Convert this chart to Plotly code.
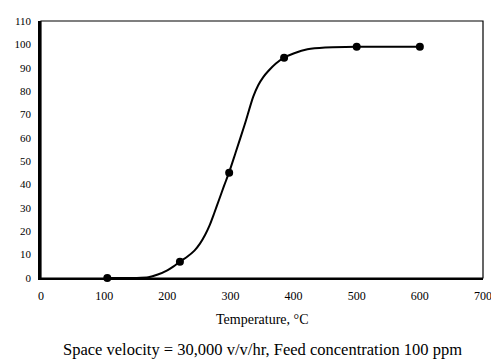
import plotly.graph_objects as go

# Measured data points
temp_pts = [105, 220, 298, 385, 500, 600]
conv_pts = [0, 7, 45, 94.3, 99, 99]

# Hand-traced smooth curve through the data
curve_x = [105, 150, 170, 185, 200, 210, 220, 232, 243, 252, 260, 267, 274, 282, 290,
           298, 308, 323, 336, 344, 352, 360, 372, 385, 401, 422, 450, 500, 550, 600]
curve_y = [0, 0, 0.3, 1.5, 3.3, 5, 7, 9.2, 11.7, 14.8, 18.5, 22.5, 27.5, 33.5, 39.5,
           45.3, 53.5, 66, 77.5, 82.5, 86, 88.6, 91.8, 94.3, 96.2, 97.9, 98.7, 99, 99, 99]

x_ticks = [0, 100, 200, 300, 400, 500, 600, 700]
y_ticks = [0, 10, 20, 30, 40, 50, 60, 70, 80, 90, 100, 110]

x_title = "Temperature, °C"
caption = "Space velocity = 30,000 v/v/hr, Feed concentration 100 ppm"

FONT = "Liberation Serif"

fig = go.Figure()
fig.add_trace(go.Scatter(x=curve_x, y=curve_y, mode="lines",
                         line=dict(color="black", width=2, shape="spline", smoothing=0.7),
                         cliponaxis=False, showlegend=False, hoverinfo="skip"))
fig.add_trace(go.Scatter(x=temp_pts, y=conv_pts, mode="markers",
                         marker=dict(color="black", size=8),
                         cliponaxis=False, showlegend=False))

fig.update_layout(
    width=491, height=354,
    margin=dict(l=30, r=9, t=7, b=84),
    paper_bgcolor="white", plot_bgcolor="white",
    font=dict(family=FONT, color="black", size=11),
    xaxis=dict(range=[0, 700], tickvals=x_ticks, ticktext=[str(v) for v in x_ticks],
               showgrid=False, zeroline=False, showline=True, linecolor="black",
               linewidth=2, ticks="", ticklabelstandoff=6,
               tickfont=dict(family=FONT, size=12)),
    yaxis=dict(range=[0, 110], tickvals=y_ticks, ticktext=[str(v) for v in y_ticks],
               showgrid=False, zeroline=False, showline=True, linecolor="black",
               linewidth=2.5, ticks="", ticklabelstandoff=5,
               tickfont=dict(family=FONT, size=11)),
    shapes=[dict(type="rect", xref="paper", yref="paper", x0=0, y0=0, x1=1, y1=1,
                 line=dict(color="black", width=1.2), layer="above")],
    annotations=[
        dict(text=x_title, xref="paper", yref="paper", x=0.5, y=-0.16,
             xanchor="center", yanchor="middle", showarrow=False,
             font=dict(family=FONT, size=14)),
        dict(text=caption, xref="paper", yref="paper", x=0.5, y=-0.28,
             xanchor="center", yanchor="middle", showarrow=False,
             font=dict(family=FONT, size=16.5)),
    ],
)

fig.write_html("out.html")
